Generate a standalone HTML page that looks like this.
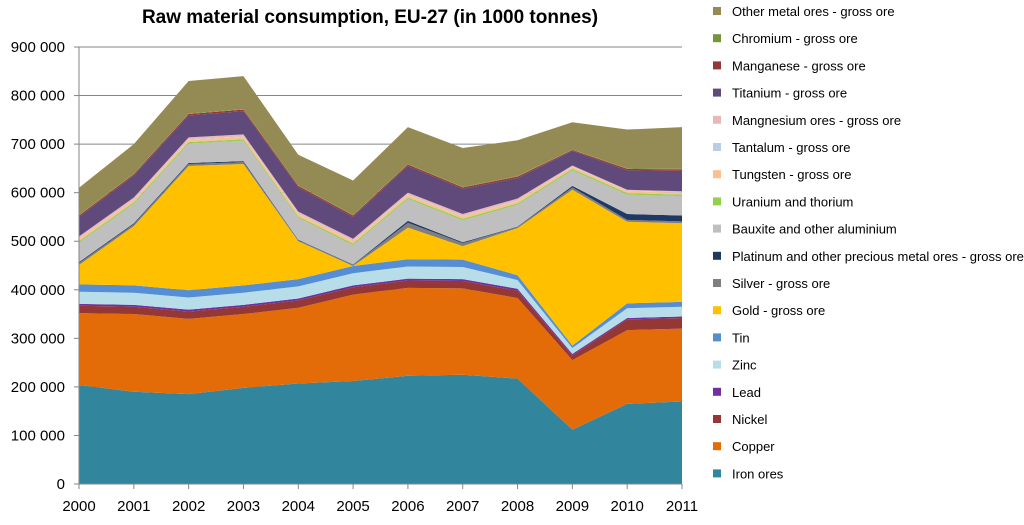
<!DOCTYPE html>
<html><head><meta charset="utf-8"><style>
body{margin:0;background:#fff;font-family:"Liberation Sans",sans-serif;}
svg text{font-family:"Liberation Sans",sans-serif;}
</style></head><body>
<svg id="chart" width="1024" height="520">
<text x="370" y="23" text-anchor="middle" font-size="19" font-weight="bold" fill="#000">Raw material consumption, EU-27 (in 1000 tonnes)</text>
<g id="grid"></g><g id="areas"></g><g id="axes"></g><g id="legend"></g>
</svg>
<script>
const years=[2000,2001,2002,2003,2004,2005,2006,2007,2008,2009,2010,2011];
const yTicks=[0,100000,200000,300000,400000,500000,600000,700000,800000,900000];
const seriesNames=["Iron ores","Copper","Nickel","Lead","Zinc","Tin","Gold - gross ore","Silver - gross ore","Platinum and other precious metal ores - gross ore","Bauxite and other aluminium","Uranium and thorium","Tungsten - gross ore","Tantalum - gross ore","Mangnesium ores - gross ore","Titanium - gross ore","Manganese - gross ore","Chromium - gross ore","Other metal ores - gross ore"];
const seriesColors=["#31859C","#E36C09","#953735","#7030A0","#B7DEE8","#558ED5","#FFC000","#7F7F7F","#1F3864","#BFBFBF","#92D050","#FAC090","#B9CDE5","#E6B9B8","#604A7B","#953735","#77933C","#948A54"];
const ironOres=[204,190,185,198,207,212,223,225,217,112,165,170];
const copper=[148,160,155,152,156,178,181,178,166,143,152,150];
const nickel=[15,15,15,15,15,15,15,15,15,10,22,22];
const lead=[4,4,4,4,4,4,4,4,4,3,3,3];
const zinc=[25,25,25,25,25,25,25,25,18,12,20,20];
const tin=[15,15,15,15,15,15,15,15,10,5,10,10];
const gold=[40,122,256,250,78,0,65,28,97,321,168,162];
const silver=[4,4,4,4,2,2,10,6,2,5,4,4];
const platinum=[2,2,2,2,1,1,4,2,1,3,12,12];
const bauxite=[40,40,40,42,45,40,45,45,45,32,40,40];
const uranium=[3,3,3,3,3,3,3,3,3,3,3,3];
const tungsten=[5,5,5,5,5,5,5,5,5,4,4,4];
const tantalum=[1,1,1,1,1,1,1,1,1,1,1,1];
const magnesium=[4,4,4,4,4,4,4,4,4,2,2,2];
const titanium=[40,45,45,48,50,45,55,52,42,30,40,42];
const manganese=[3,3,3,3,3,3,3,3,3,2,3,3];
const chromium=[1,1,1,1,1,1,1,1,1,1,1,1];
const otherMetal=[56,61,67,68,63,71,76,80,74,56,80,86];
const seriesData=[ironOres,copper,nickel,lead,zinc,tin,gold,silver,platinum,bauxite,uranium,tungsten,tantalum,magnesium,titanium,manganese,chromium,otherMetal];

const NS="http://www.w3.org/2000/svg";
const X0=79,X1=682,Y0=484,Y1=47;
const xS=i=>X0+(X1-X0)*i/(years.length-1);
const yS=v=>Y0-(Y0-Y1)*v/900000;
function mk(t,a,p){const e=document.createElementNS(NS,t);for(const k in a)e.setAttribute(k,a[k]);p.appendChild(e);return e;}
const grid=document.getElementById('grid'),axes=document.getElementById('axes'),areas=document.getElementById('areas'),legend=document.getElementById('legend');
yTicks.forEach(t=>{
 if(t>0){const l=mk('line',{x1:X0,x2:X1,y1:yS(t),y2:yS(t),stroke:'#868686','stroke-width':1},grid);
 
 }
 const tk=mk('line',{x1:X0-5,x2:X0,y1:yS(t),y2:yS(t),stroke:'#868686'},axes);
 
 
 const tx=mk('text',{x:X0-14,y:yS(t)+5,'text-anchor':'end','font-size':15,fill:'#000'},axes);
 tx.textContent=t===0?'0':(t/1000)+' 000';
 
 
});
let cum=years.map(()=>0);
seriesData.forEach((s,k)=>{
 const lo=cum.slice();const hi=cum.map((c,i)=>c+s[i]*1000);
 let d='M'+hi.map((v,i)=>xS(i)+','+yS(v)).join('L');
 for(let i=years.length-1;i>=0;i--)d+='L'+xS(i)+','+yS(lo[i]);
 const p=mk('path',{d:d+'Z',fill:seriesColors[k]},areas);
 
 
 cum=hi;
});
const ax=mk('line',{x1:X0,x2:X0,y1:Y1,y2:Y0,stroke:'#868686'},axes);


const bx=mk('line',{x1:X0,x2:X1,y1:Y0,y2:Y0,stroke:'#868686'},axes);


years.forEach((y,i)=>{
 const tk=mk('line',{x1:xS(i),x2:xS(i),y1:Y0,y2:Y0+5,stroke:'#868686'},axes);
 
 
 const t=mk('text',{x:xS(i),y:511,'text-anchor':'middle','font-size':15,fill:'#000'},axes);
 t.textContent=y;
 
 
});
for(let k=seriesNames.length-1;k>=0;k--){
 const row=seriesNames.length-1-k;const ly=11+row*27.2;
 const g=mk('g',{},legend);
 
 
 mk('rect',{x:713,y:ly-4,width:8,height:8,fill:seriesColors[k]},g);
 const t=mk('text',{x:732,y:ly+5,'font-size':13,fill:'#000'},g);
 t.textContent=seriesNames[k];
}
</script>
</body></html>
